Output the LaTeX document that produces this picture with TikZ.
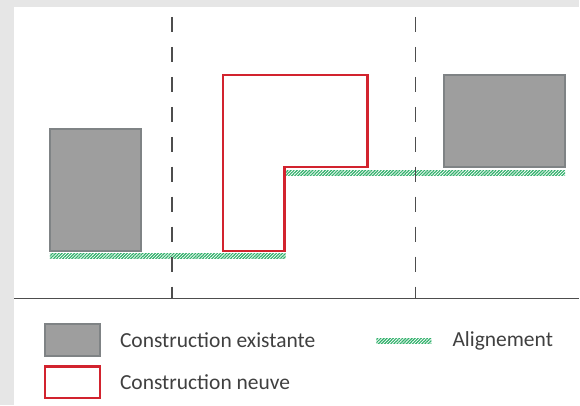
\documentclass[tikz,border=0pt]{standalone}
\usepackage{fontspec}
\setmainfont{Carlito}
\usetikzlibrary{patterns.meta}
\definecolor{fond}{HTML}{E6E6E6}
\definecolor{gris}{HTML}{9E9E9E}
\definecolor{grisfonce}{HTML}{7F8385}
\definecolor{rouge}{HTML}{D2232E}
\definecolor{vert}{HTML}{2FB06A}
\definecolor{trait}{HTML}{4D4D4D}
\definecolor{texte}{HTML}{404040}

\begin{document}
\begin{tikzpicture}[x=1pt, y=-1pt,
	  existante/.style = {draw=grisfonce, line width=2pt, fill=gris},
	  neuve/.style = {draw=rouge, line width=2.2pt, fill=white},
	  alignement/.style = {pattern={Lines[angle=45, distance=2.2pt, line width=1.2pt]}, pattern color=vert},
	  limite/.style = {draw=trait, line width=1.7pt, dash pattern=on 15pt off 15pt},
	  legende/.style = {anchor=west, inner sep=0pt, text=texte, font=\fontsize{21.5}{24}\selectfont}
	]

	  % fond
	  \fill[fond] (0,0) rectangle (580,406);
	  \fill[white] (14,7) rectangle (580,406);

	  % alignements
	  \fill[alignement] (50,254) rectangle (286,259);
	  \fill[alignement] (286,171) rectangle (566,176);

	  % constructions
	  \draw[existante] (50,129) rectangle (141,251);
	  \draw[existante] (445,75) rectangle (566,167);
	  \draw[neuve] (223,75) -- (368,75) -- (368,167) -- (285,167) -- (285,251) -- (223,251) -- cycle;

	  % limites et sol
	  \draw[limite] (172,17) -- (172,299);
	  \draw[limite] (416,17) -- (416,299);
	  \draw[trait, line width=1.8pt] (14,299) -- (580,299);

	  % legende
	  \draw[existante] (45,325) rectangle (100,357);
	  \draw[neuve] (45,367) rectangle (100,399);
	  \fill[alignement] (377,339) rectangle (432,344);
	  \node[legende] (existante) at (120,341) {Construction existante};
	  \node[legende] (neuve) at (120,383) {Construction neuve};
	  \node[legende] (alignement) at (453,341) {Alignement};
\end{tikzpicture}
\end{document}
